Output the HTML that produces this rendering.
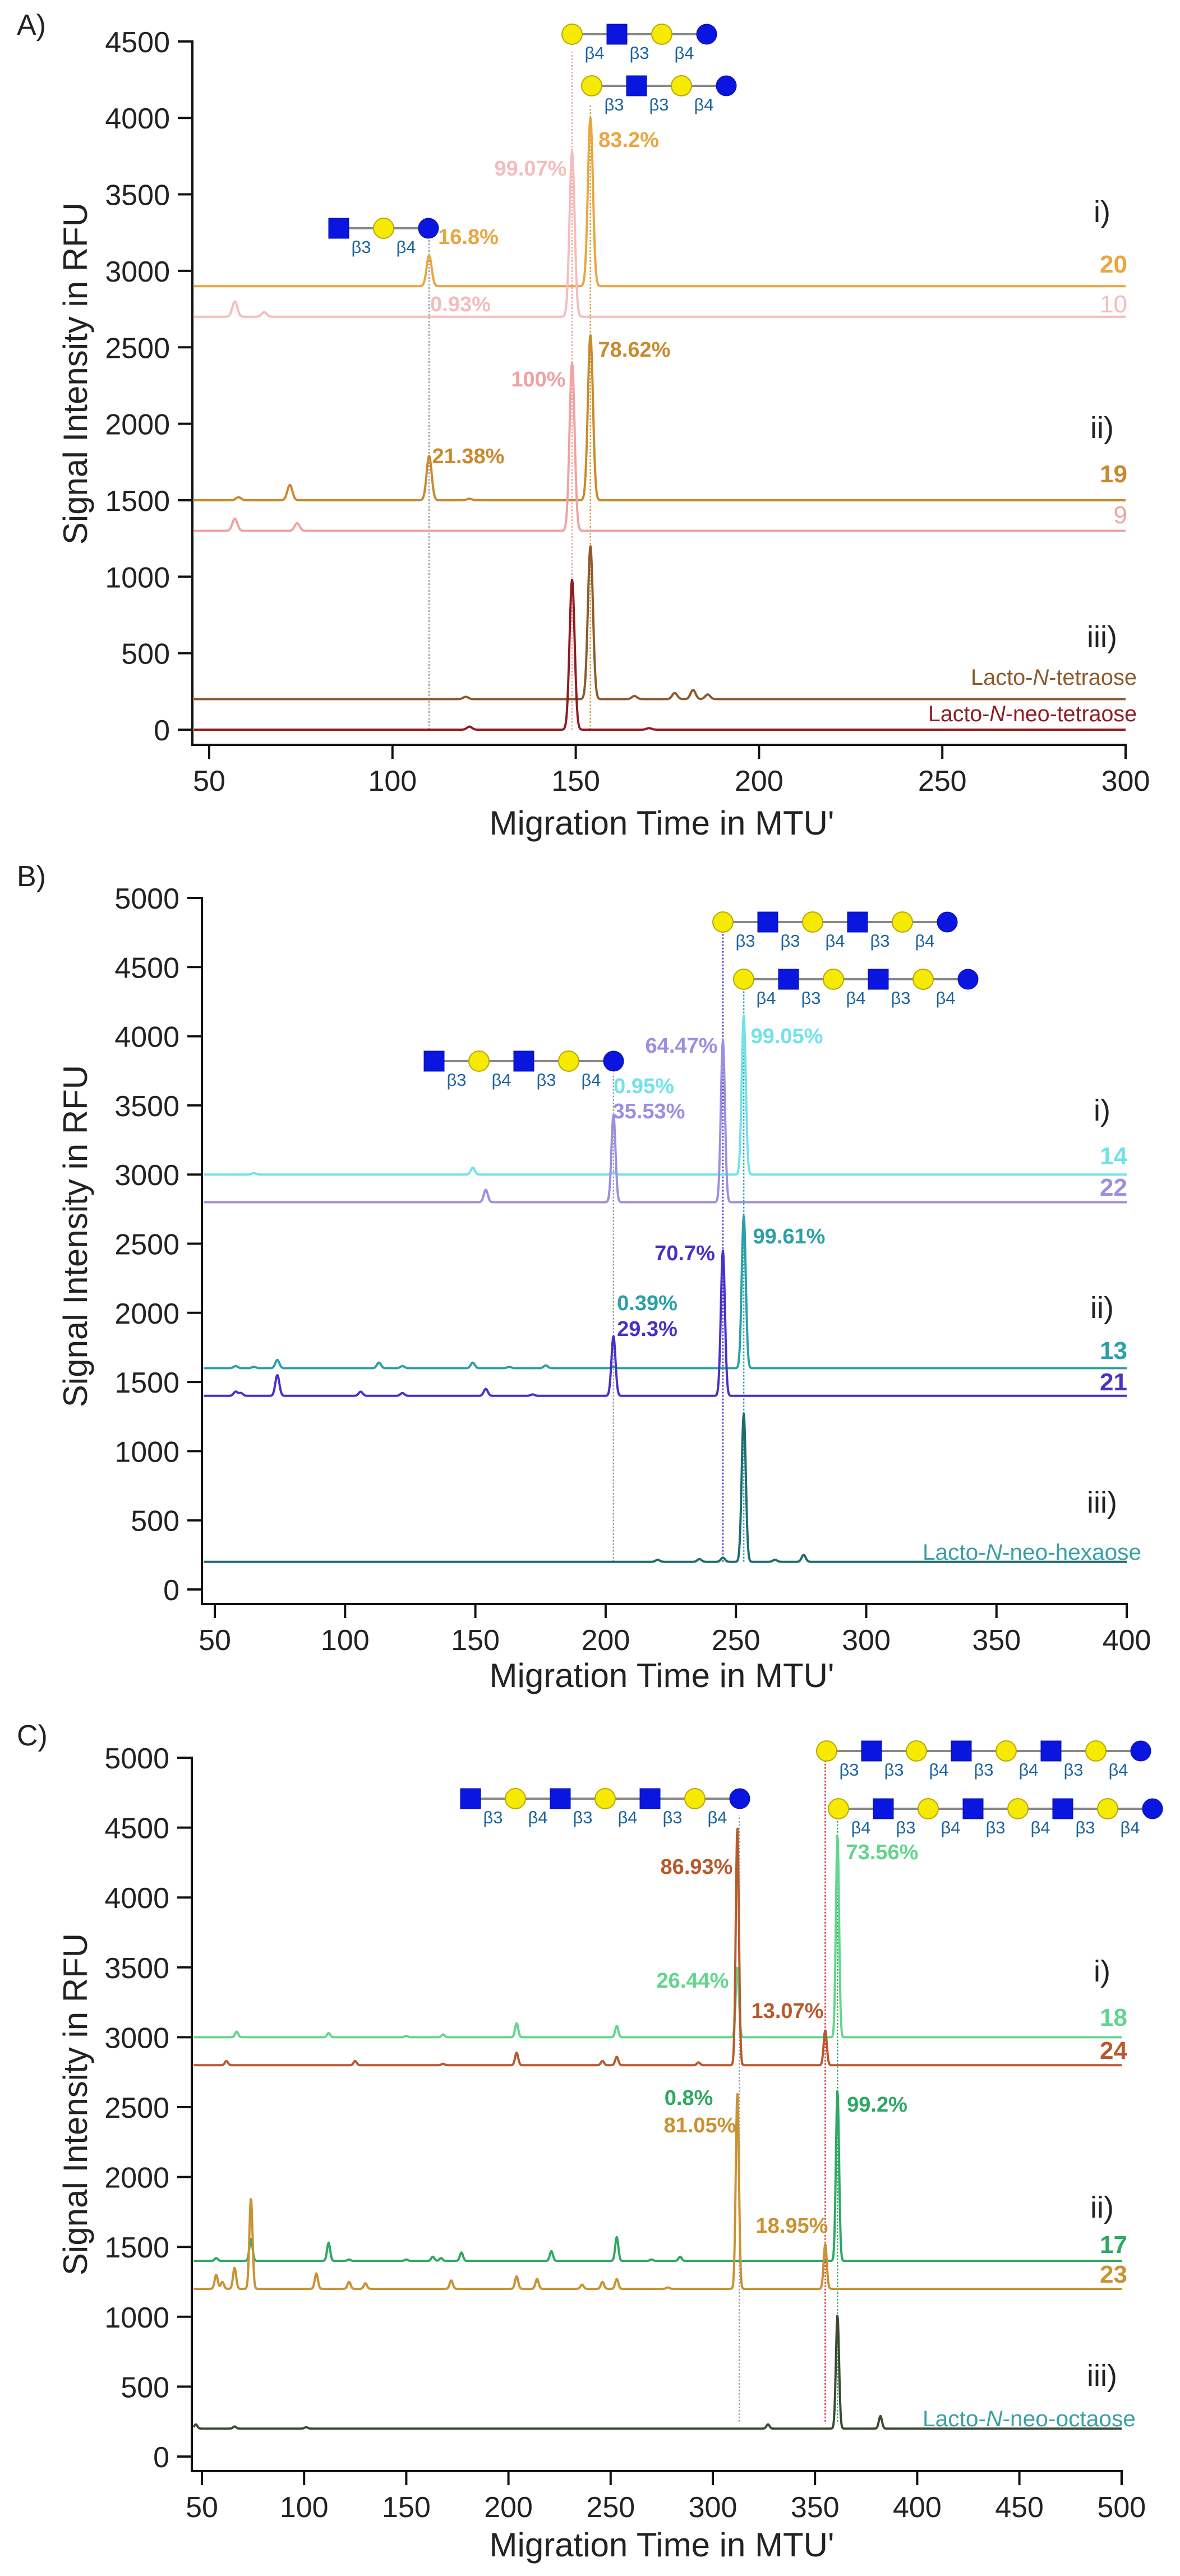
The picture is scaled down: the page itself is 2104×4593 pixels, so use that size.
<!DOCTYPE html>
<html><head><meta charset="utf-8">
<style>
html,body{margin:0;padding:0;background:#fff;}
svg{display:block;}
text{font-family:"Liberation Sans",Arial,sans-serif;}
</style></head>
<body>
<svg id="s" xmlns="http://www.w3.org/2000/svg" width="2104" height="4593" viewBox="0 0 2104 4593">
<rect width="2104" height="4593" fill="#fff"/>
</svg>
<script>
const NS="http://www.w3.org/2000/svg";
const S=document.getElementById('s');
function el(tag,attrs,txt){const e=document.createElementNS(NS,tag);for(const k in attrs)e.setAttribute(k,attrs[k]);if(txt!==undefined)e.textContent=txt;S.appendChild(e);return e;}
function txt(x,y,s,opt){opt=opt||{};const a={x:x,y:y,'font-size':opt.size||40,fill:opt.fill||'#222','text-anchor':opt.anchor||'middle'};if(opt.bold)a['font-weight']='bold';if(opt.tl){a.textLength=opt.tl;a.lengthAdjust='spacingAndGlyphs';}if(opt.tr)a.transform=opt.tr;return el('text',a,s);}

const panels=[
 {label:'A)',ly:62,x50:373,sx:6.536,y0:1301,sy:0.2727,L:343,B:1328,R:2007,xt:[50,100,150,200,250,300],yt:[0,500,1000,1500,2000,2500,3000,3500,4000,4500],sig:4.5,title:1488,ylabc:666,
  traces:[
   {c:'#e9a640',b:2900,p:[[110,200],[154,1100]]},
   {c:'#f6bcbc',b:2700,p:[[57,100],[65,30],[149,1080]]},
   {c:'#c98a2c',b:1500,p:[[58,20],[72,100],[110,290],[121,10],[154,1080]]},
   {c:'#f0a2a2',b:1300,p:[[57,80],[74,50],[149,1100]]},
   {c:'#8c5a2c',b:200,p:[[120,15],[154,1000],[166,20],[177,40],[182,60],[186,30]]},
   {c:'#8e1c22',b:0,p:[[121,20],[149,980],[170,10]]}],
  dots:[[110,'#999',0,425],[149,'#f0a0a0',0,92],[154,'#d9a040',0,185]],
  series:[['20',472,'#e9a640',true],['10',543,'#f6bcbc',false],['19',846,'#c98a2c',true],['9',919,'#f0a2a2',false]],
  names:[['Lacto-N-tetraose',1207,'#8c5a2c',1731,296],['Lacto-N-neo-tetraose',1272,'#8e1c22',1655,372]],
  rom:[['i)',378],['ii)',763],['iii)',1136]],
  pct:[['83.2%',1121,248,'#e9a640'],['99.07%',946,299,'#f6bcbc'],['16.8%',835,421,'#e9a640'],['0.93%',821,541,'#f6bcbc'],['78.62%',1131,622,'#c98a2c'],['100%',960,675,'#f0a2a2'],['21.38%',835,812,'#c98a2c']],
  gly:[[1020,61,'YSYB',[4,3,4]],[1055,153,'YSYB',[3,3,4]],[604,407,'SYB',[3,4]]],
 },
 {label:'B)',ly:1580,x50:383,sx:4.646,y0:2834,sy:0.2466,L:360,B:2860,R:2009,xt:[50,100,150,200,250,300,350,400],yt:[0,500,1000,1500,2000,2500,3000,3500,4000,4500,5000],sig:3.6,title:3008,ylabc:2204,
  traces:[
   {c:'#72e2ea',b:3000,p:[[65,10],[149,50],[203,15],[253,1150]]},
   {c:'#9b8fe2',b:2800,p:[[154,90],[203,630],[245,1170]]},
   {c:'#2aa0a8',b:1600,p:[[58,15],[65,10],[74,60],[113,40],[122,15],[149,40],[163,10],[177,20],[203,10],[253,1100]]},
   {c:'#4a30c8',b:1400,p:[[58,30],[60,20],[74,150],[106,30],[122,20],[154,50],[172,10],[203,430],[245,1050]]},
   {c:'#1e6c70',b:200,p:[[220,15],[236,20],[245,30],[253,1070],[265,15],[276,50]]}],
  dots:[[203,'#999',200,1914],[245,'#4a30c8',200,1649],[253,'#2aa0a8',200,1756]],
  series:[['14',2062,'#72e2ea',true],['22',2118,'#9b8fe2',true],['13',2409,'#2aa0a8',true],['21',2465,'#4a30c8',true]],
  names:[['Lacto-N-neo-hexaose',2767,'#3aa0a4',1645,390]],
  rom:[['i)',1980],['ii)',2332],['iii)',2679]],
  pct:[['64.47%',1215,1863,'#9b8fe2'],['99.05%',1403,1846,'#72e2ea'],['0.95%',1148,1935,'#72e2ea'],['35.53%',1157,1980,'#9b8fe2'],['70.7%',1221,2233,'#4a30c8'],['99.61%',1407,2203,'#2aa0a8'],['0.39%',1154,2322,'#2aa0a8'],['29.3%',1154,2368,'#4a30c8']],
  gly:[[1289,1644,'YSYSYB',[3,3,4,3,4]],[1326,1746,'YSYSYB',[4,3,4,3,4]],[774,1892,'SYSYB',[3,4,3,4]]],
 },
 {label:'C)',ly:3112,x50:360,sx:3.644,y0:4380,sy:0.2492,L:342,B:4406,R:2000,xt:[50,100,150,200,250,300,350,400,450,500],yt:[0,500,1000,1500,2000,2500,3000,3500,4000,4500,5000],sig:2.8,title:4558,ylabc:3752,
  traces:[
   {c:'#62d68c',b:3000,p:[[67,40],[112,30],[150,10],[168,20],[204,100],[253,80],[312,500],[361,1450]]},
   {c:'#b8592c',b:2800,p:[[62,30],[125,30],[168,10],[204,90],[246,30],[253,60],[293,20],[312,1700],[355,250]]},
   {c:'#2ea862',b:1400,p:[[57,20],[74,160],[112,130],[122,10],[150,10],[163,30],[167,20],[177,60],[221,70],[253,170],[270,10],[284,30],[361,1220]]},
   {c:'#c99232',b:1200,p:[[57,100],[60,50],[66,150],[74,650],[106,110],[122,50],[130,40],[172,60],[204,90],[214,70],[236,30],[246,50],[253,70],[278,10],[312,1400],[355,320]]},
   {c:'#3b4a32',b:200,p:[[47,30],[66,15],[101,10],[327,30],[361,810],[382,90]]}],
  dots:[[313,'#999',250,3237],[355,'#e03030',250,3139],[361,'#2ea862',250,3242]],
  series:[['18',3598,'#62d68c',true],['24',3657,'#b8592c',true],['17',4003,'#2ea862',true],['23',4056,'#c99232',true]],
  names:[['Lacto-N-neo-octaose',4312,'#3aa0a4',1645,380]],
  rom:[['i)',3515],['ii)',3936],['iii)',4236]],
  pct:[['86.93%',1242,3327,'#b8592c'],['73.56%',1573,3301,'#62d68c'],['26.44%',1235,3530,'#62d68c'],['13.07%',1404,3584,'#b8592c'],['0.8%',1228,3739,'#2ea862'],['81.05%',1248,3788,'#c99232'],['99.2%',1564,3751,'#2ea862'],['18.95%',1412,3967,'#c99232']],
  gly:[[1474,3122,'YSYSYSYB',[3,3,4,3,4,3,4]],[1495,3225,'YSYSYSYB',[4,3,4,3,4,3,4]],[839,3207,'SYSYSYB',[3,4,3,4,3,4]]],
 }
];

function glycan(x,y,seq,links){
 const step=80, r=18;
 const n=seq.length;
 el('line',{x1:x,y1:y,x2:x+(n-1)*step,y2:y,stroke:'#888','stroke-width':4});
 for(let i=0;i<n;i++){
  const cx=x+i*step, ch=seq[i];
  if(ch==='Y')el('circle',{cx:cx,cy:y,r:r,fill:'#f5ea00',stroke:'#b8a800','stroke-width':2});
  else if(ch==='B')el('circle',{cx:cx,cy:y,r:r,fill:'#0a16e0',stroke:'#0010a0','stroke-width':1});
  else el('rect',{x:cx-r,y:y-r,width:2*r,height:2*r,fill:'#0a16e0',stroke:'#0010a0','stroke-width':1});
 }
 for(let i=0;i<links.length;i++){
  txt(x+i*step+step/2,y+44,'β'+links[i],{size:31,fill:'#1d64a0'});
 }
}

panels.forEach(P=>{
 const X=t=>P.x50+(t-50)*P.sx;
 const Y=v=>P.y0-v*P.sy;
 P.dots.forEach(d=>{el('line',{x1:X(d[0]),y1:Y(d[2]),x2:X(d[0]),y2:d[3],stroke:d[1],'stroke-width':2.5,'stroke-dasharray':'3,3'});});
 P.traces.forEach(tr=>{
  let pts=[];
  for(let px=P.L+3;px<=P.R;px+=1){
   let v=tr.b;
   tr.p.forEach(pk=>{const d=(px-X(pk[0]))/P.sig;if(Math.abs(d)<6)v+=pk[1]*Math.exp(-0.5*d*d);});
   pts.push(px+','+Y(v).toFixed(1));
  }
  el('polyline',{points:pts.join(' '),fill:'none',stroke:tr.c,'stroke-width':4,'stroke-linejoin':'round'});
 });
 el('path',{d:`M${P.L},${Y(P.yt[P.yt.length-1])-2} L${P.L},${P.B} L${P.R},${P.B} L${P.R},${P.B+25}`,fill:'none',stroke:'#111','stroke-width':4});
 P.yt.forEach(v=>{const y=Y(v);el('line',{x1:P.L-26,y1:y,x2:P.L,y2:y,stroke:'#111','stroke-width':4});txt(P.L-40,y+19,String(v),{size:52,anchor:'end',fill:'#222'});});
 P.xt.forEach(t=>{const x=X(t);el('line',{x1:x,y1:P.B,x2:x,y2:P.B+25,stroke:'#111','stroke-width':4});txt(x,P.B+82,String(t),{size:52,fill:'#222'});});
 txt(1180,P.title,"Migration Time in MTU'",{size:60,fill:'#222'});
 txt(0,0,'Signal Intensity in RFU',{size:60,fill:'#222',tr:`translate(155,${P.ylabc}) rotate(-90)`});
 txt(30,P.ly,P.label,{size:52,anchor:'start',fill:'#222'});
 P.series.forEach(s=>txt(2010,s[1]+14,s[0],{size:44,anchor:'end',fill:s[2],bold:s[3]}));
 P.names.forEach(n=>{const t=el('text',{x:n[3],y:n[1]+14,'font-size':40,fill:n[2],textLength:n[4],lengthAdjust:'spacingAndGlyphs'});
   const parts=n[0].split('N');t.appendChild(document.createTextNode(parts[0]));const it=document.createElementNS(NS,'tspan');it.setAttribute('font-style','italic');it.textContent='N';t.appendChild(it);t.appendChild(document.createTextNode(parts.slice(1).join('N')));});
 P.rom.forEach(r=>txt(1965,r[1]+18,r[0],{size:54,fill:'#222'}));
 P.pct.forEach(p=>txt(p[1],p[2]+14,p[0],{size:38,fill:p[3],bold:true}));
 P.gly.forEach(g=>glycan(g[0],g[1],g[2],g[3]));
});
</script>
</body></html>
